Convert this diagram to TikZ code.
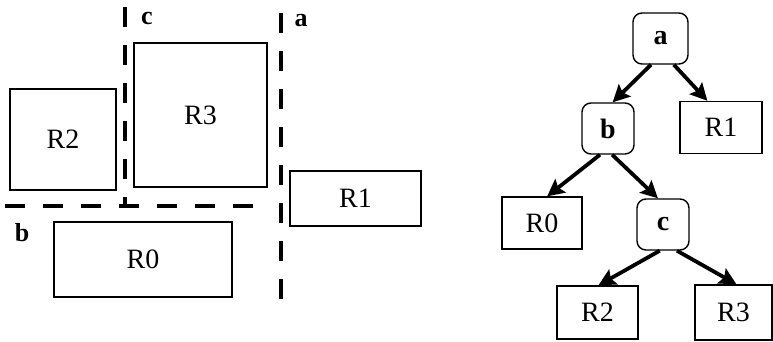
\documentclass[tikz,border=0pt]{standalone}
\usepackage{fontspec}
\setmainfont{Liberation Serif}
\usetikzlibrary{arrows.meta,positioning}
\tikzset{
  region/.style={draw, line width=1.4pt, inner sep=0pt, font=\fontsize{28}{30}\selectfont},
  cutln/.style={line width=4pt, dash pattern=on 20pt off 18pt},
  cutlbl/.style={inner sep=0pt, font=\fontsize{26}{30}\selectfont\bfseries},
  splitnd/.style={draw, line width=1.4pt, rounded corners=9pt, minimum width=52pt,
    minimum height=51pt, font=\fontsize{28}{30}\selectfont\bfseries},
  leafnd/.style={draw, line width=1.4pt, minimum height=52pt, font=\fontsize{28}{30}\selectfont},
  guide/.style={-{Stealth[length=17pt,width=17pt,inset=3pt]}, line width=3.8pt},
}

\begin{document}
\begin{tikzpicture}[x=1pt, y=-1pt]
    \useasboundingbox (0,0) rectangle (773,342);
    % the plane and its rectangles
    \node[region, minimum width=106pt, minimum height=101pt] (pR2) at (63,139.5) {R2};
    \node[region, minimum width=133pt, minimum height=144pt] (pR3) at (200.5,115) {R3};
    \node[region, minimum width=131pt, minimum height=55pt] (pR1) at (355.5,198.5) {R1};
    \node[region, minimum width=178pt, minimum height=75pt] (pR0) at (143,259.5) {R0};
    % split lines
    \coordinate (ctop) at (125,7);
    \coordinate (cbot) at (125,208);
    \coordinate (atop) at (281,13);
    \coordinate (abot) at (281,299);
    \coordinate (bleft) at (5,206);
    \coordinate (bright) at (258,206);
    \draw[cutln] (ctop) -- (cbot);
    \draw[cutln] (atop) -- (abot);
    \draw[cutln] (bleft) -- (bright);
    \node[cutlbl] (lc) at (147,18) {c};
    \node[cutlbl] (la) at (301,21) {a};
    \node[cutlbl] (lb) at (22,233) {b};
    % the tree
    \node[splitnd, minimum width=55pt] (a) at (660.5,38.5) {a};
    \node[splitnd] (b) at (608,128.5) {b};
    \node[leafnd, minimum width=82pt] (R1) at (721,127.5) {R1};
    \node[leafnd, minimum width=80pt] (R0) at (542,223) {R0};
    \node[splitnd] (c) at (663,224.5) {c};
    \node[leafnd, minimum width=81pt, minimum height=53pt] (R2) at (597.5,312.5) {R2};
    \node[leafnd, minimum width=77pt, minimum height=55pt] (R3) at (733.5,312.5) {R3};
    \draw[guide] (a.250) -- (b.80);
    \draw[guide] (a.297) -- (R1.117);
    \draw[guide] (b.253) -- (R0.79);
    \draw[guide] (b.279) -- (c.101);
    \draw[guide] (c.263) -- (R2.88);
    \draw[guide] (c.298) -- (R3.84);
\end{tikzpicture}
\end{document}
